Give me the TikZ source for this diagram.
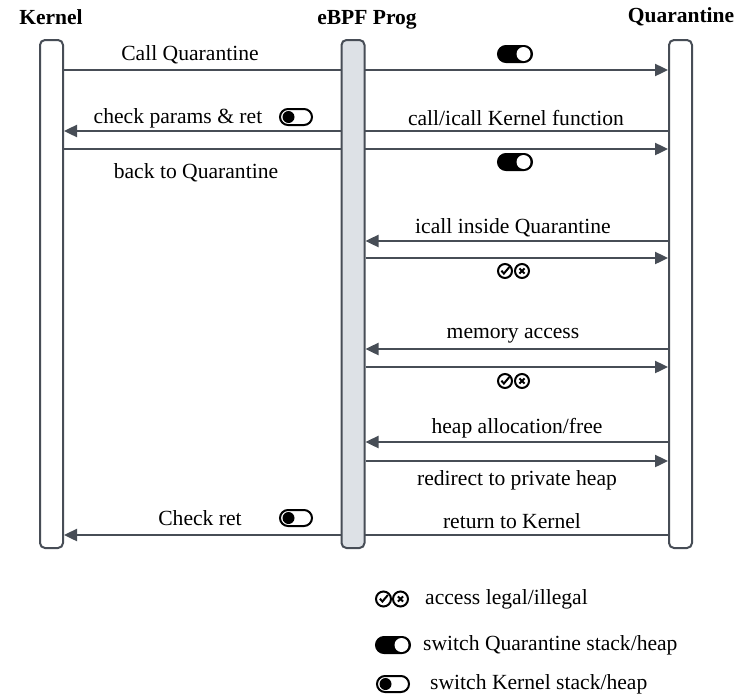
\documentclass[tikz,border=0pt]{standalone}
\usepackage{fontspec}
\setmainfont{Liberation Serif}
\usetikzlibrary{arrows.meta, positioning, backgrounds}
\definecolor{linegray}{HTML}{474D56}
\definecolor{barfill}{HTML}{DDE1E6}

\begin{document}
\begin{tikzpicture}[x=1pt, y=-1pt, >={Triangle[length=13pt, width=12pt]}]
        % Definición de estilos
        \tikzstyle{lifeline} = [draw=linegray, line width=2pt, rounded corners=5pt, fill=white, minimum width=23pt, minimum height=508pt, inner sep=0pt]
        \tikzstyle{head} = [font=\fontsize{21.5}{24}\selectfont\bfseries, inner sep=0pt]
        \tikzstyle{lbl} = [font=\fontsize{21.6}{24}\selectfont, inner sep=0pt]
        \tikzstyle{msg} = [draw=linegray, line width=2.4pt]
        \tikzstyle{toggleQ} = [draw=black, fill=black, line width=1pt, rounded corners=8.5pt, minimum width=35pt, minimum height=17pt, inner sep=0pt,
            path picture={\fill[white] ([xshift=-9pt]path picture bounding box.east) circle (7pt);}]
        \tikzstyle{toggleK} = [draw=black, fill=white, line width=2pt, rounded corners=8pt, minimum width=32pt, minimum height=16pt, inner sep=0pt,
            path picture={\fill[black] ([xshift=8.5pt]path picture bounding box.west) circle (6pt);}]
        \tikzstyle{okmark} = [draw=black, circle, line width=2pt, minimum size=14pt, inner sep=0pt,
            path picture={\draw[line width=2pt] ([xshift=-3.6pt,yshift=0.3pt]path picture bounding box.center) -- ++(2.5pt,-2.8pt) -- ++(5.5pt,6.5pt);}]
        \tikzstyle{badmark} = [draw=black, circle, line width=2pt, minimum size=14pt, inner sep=0pt,
            path picture={\draw[line width=2pt] ([shift={(-2.6pt,-2.6pt)}]path picture bounding box.center) -- ++(5.2pt,5.2pt)
                                                ([shift={(-2.6pt,2.6pt)}]path picture bounding box.center) -- ++(5.2pt,-5.2pt);}]

        \useasboundingbox (0,0) rectangle (753,699);

        % Líneas de vida
        \node [lifeline] at (51.5,294) (kernel) {};
        \node [lifeline, fill=barfill, on grid, right=301.5pt of kernel] (ebpf) {};
        \node [lifeline, on grid, right=327.5pt of ebpf] (quar) {};

        % Títulos
        \node [head] at (51,17) (kernelTitle) {Kernel};
        \node [head] at (367,20) (ebpfTitle) {eBPF Prog};
        \node [head] at (681,17) (quarTitle) {Quarantine};

        % Mensajes (detrás de las barras)
        \begin{scope}[on background layer]
        \draw [msg, ->] (kernel.east |- 0,70) -- (quar.west |- 0,70);
        \draw [msg, ->] (quar.west |- 0,131) -- (kernel.east |- 0,131);
        \draw [msg, ->] (kernel.east |- 0,149) -- (quar.west |- 0,149);
        \draw [msg, ->] (quar.west |- 0,241) -- (ebpf.east |- 0,241);
        \draw [msg, ->] (ebpf.east |- 0,258) -- (quar.west |- 0,258);
        \draw [msg, ->] (quar.west |- 0,349) -- (ebpf.east |- 0,349);
        \draw [msg, ->] (ebpf.east |- 0,367) -- (quar.west |- 0,367);
        \draw [msg, ->] (quar.west |- 0,442) -- (ebpf.east |- 0,442);
        \draw [msg, ->] (ebpf.east |- 0,461) -- (quar.west |- 0,461);
        \draw [msg, ->] (quar.west |- 0,535) -- (kernel.east |- 0,535);
        \end{scope}

        % Etiquetas
        \node [lbl] at (190,55) (callQuar) {Call Quarantine};
        \node [toggleQ] at (515,54) (swQ1) {};
        \node [lbl] at (178,118) (checkParams) {check params \& ret};
        \node [toggleK] at (296,117) (swK1) {};
        \node [lbl] at (516,118) (callKernel) {call/icall Kernel function};
        \node [toggleQ] at (515,162) (swQ2) {};
        \node [lbl] at (196,173) (backQuar) {back to Quarantine};
        \node [lbl] at (513,228) (icallQuar) {icall inside Quarantine};
        \node [okmark] at (505,271) (ok1) {};
        \node [badmark] at (522,271) (bad1) {};
        \node [lbl] at (513,336) (memAccess) {memory access};
        \node [okmark] at (505,381) (ok2) {};
        \node [badmark] at (522,381) (bad2) {};
        \node [lbl] at (517,428) (heapAlloc) {heap allocation/free};
        \node [lbl] at (517,480) (redirect) {redirect to private heap};
        \node [lbl] at (200,518) (checkRet) {Check ret};
        \node [toggleK] at (296,518) (swK2) {};
        \node [lbl] at (512,521) (retKernel) {return to Kernel};

        % Leyenda
        \node [okmark, minimum size=15pt] at (383.5,599) (okLegend) {};
        \node [badmark, minimum size=15pt] at (400.5,599) (badLegend) {};
        \node [lbl, anchor=west] at (425,599) (accessText) {access legal/illegal};
        \node [toggleQ] at (393,645) (swQLegend) {};
        \node [lbl, anchor=west] at (423,645) (swQText) {switch Quarantine stack/heap};
        \node [toggleK] at (393,684) (swKLegend) {};
        \node [lbl, anchor=west] at (430,684) (swKText) {switch Kernel stack/heap};
\end{tikzpicture}
\end{document}
